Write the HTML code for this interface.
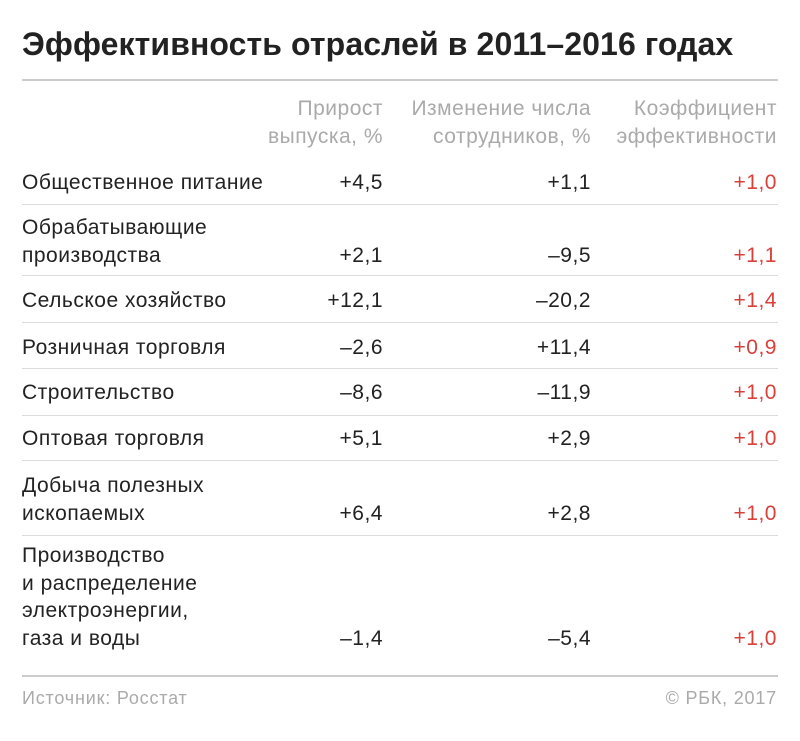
<!DOCTYPE html>
<html><head><meta charset="utf-8"><style>
body{margin:0;width:800px;height:741px;background:#fff;position:relative;overflow:hidden;font-family:"Liberation Sans",sans-serif;}
.a{position:absolute;white-space:nowrap;line-height:28px;font-size:21px;color:#222;letter-spacing:0.5px}
.r{text-align:right}
.h{color:#aaa}
.red{color:#d9403a}
.ln{position:absolute;left:22px;width:756px;height:1px;background:#ddd}
</style></head><body>
<div class="a" style="left:22px;top:22px;font-size:32px;font-weight:bold;line-height:44px;letter-spacing:0.1px">Эффективность отраслей в 2011–2016 годах</div>
<div class="ln" style="top:79px;height:2px;background:#ccc"></div>
<div class="a r h" style="right:417px;top:95px">Прирост<br>выпуска, %</div>
<div class="a r h" style="right:209px;top:95px">Изменение числа<br>сотрудников, %</div>
<div class="a r h" style="right:23px;top:95px">Коэффициент<br>эффективности</div>
<div id="t"></div>
<div class="ln" style="top:675px;height:2px;background:#ccc"></div>
<div class="a h" style="left:22px;top:684px;font-size:18px;letter-spacing:0.8px">Источник: Росстат</div>
<div class="a r h" style="right:23px;top:684px;font-size:18px;letter-spacing:0.8px">© РБК, 2017</div>
<script>
const labels=[["Общественное питание"],["Обрабатывающие","производства"],["Сельское хозяйство"],["Розничная торговля"],["Строительство"],["Оптовая торговля"],["Добыча полезных","ископаемых"],["Производство","и распределение","электроэнергии,","газа и воды"]];
const output=["+4,5","+2,1","+12,1","–2,6","–8,6","+5,1","+6,4","–1,4"];
const staff=["+1,1","–9,5","–20,2","+11,4","–11,9","+2,9","+2,8","–5,4"];
const eff=["+1,0","+1,1","+1,4","+0,9","+1,0","+1,0","+1,0","+1,0"];
const tops=[169,214,287,334,379,425,472,542];
const rules=[204,275,322,368,415,460,535];
const t=document.getElementById('t');
function mk(cls,style,html){const d=document.createElement('div');d.className=cls;d.style.cssText=style;d.innerHTML=html;t.appendChild(d);return d;}
labels.forEach((l,i)=>{
  const y=tops[i], last=y+(l.length-1)*27.7;
  let d=mk('a','left:22px;top:'+y+'px;line-height:27.7px',l.join('<br>'));
  
  
  d=mk('a r','right:417px;top:'+last+'px',output[i]);
  
  
  d=mk('a r','right:209px;top:'+last+'px',staff[i]);
  
  
  d=mk('a r red','right:23px;top:'+last+'px',eff[i]);
  
  
});
rules.forEach(y=>{const d=mk('ln','top:'+y+'px','');
  
  });
</script>
</body></html>
